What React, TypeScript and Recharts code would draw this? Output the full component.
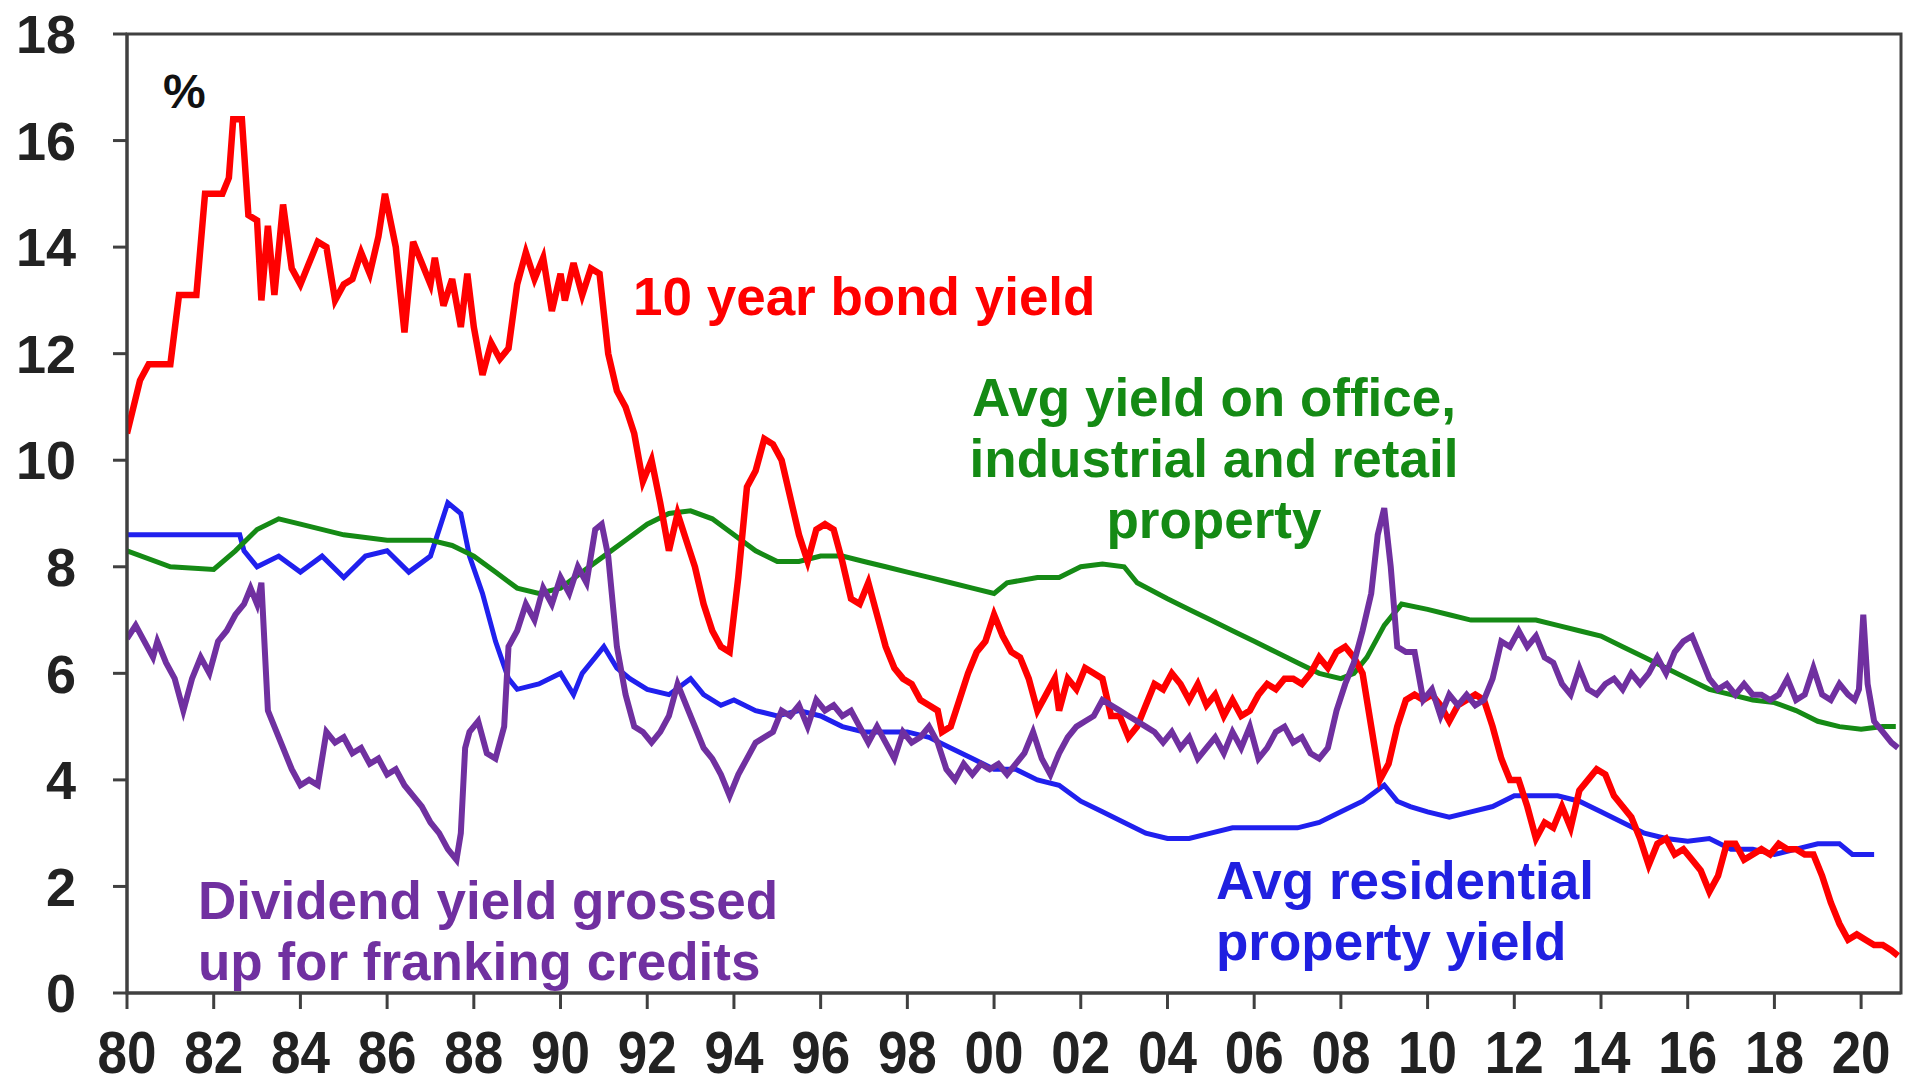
import React from 'react';
import { LineChart, Line, XAxis, YAxis, ReferenceArea } from 'recharts';

// [year, %]
const bondYield: [number, number][] = [
  [1980.0, 10.5], [1980.3, 11.5], [1980.5, 11.8], [1981.0, 11.8], [1981.2, 13.1], [1981.6, 13.1],
  [1981.8, 15.0], [1982.2, 15.0], [1982.35, 15.3], [1982.45, 16.4], [1982.65, 16.4], [1982.8, 14.6],
  [1983.0, 14.5], [1983.1, 13.0], [1983.25, 14.4], [1983.4, 13.1], [1983.6, 14.8], [1983.8, 13.6],
  [1984.0, 13.3], [1984.2, 13.7], [1984.4, 14.1], [1984.6, 14.0], [1984.8, 13.0], [1985.0, 13.3],
  [1985.2, 13.4], [1985.4, 13.9], [1985.6, 13.5], [1985.8, 14.2], [1985.95, 15.0], [1986.2, 14.0],
  [1986.4, 12.4], [1986.6, 14.1], [1986.8, 13.7], [1987.0, 13.3], [1987.1, 13.8], [1987.3, 12.9],
  [1987.5, 13.4], [1987.7, 12.5], [1987.85, 13.5], [1988.0, 12.5], [1988.2, 11.6], [1988.4, 12.2],
  [1988.6, 11.9], [1988.8, 12.1], [1989.0, 13.3], [1989.2, 13.9], [1989.4, 13.4], [1989.6, 13.8],
  [1989.8, 12.8], [1990.0, 13.5], [1990.1, 13.0], [1990.3, 13.7], [1990.5, 13.1], [1990.7, 13.6],
  [1990.9, 13.5], [1991.1, 12.0], [1991.3, 11.3], [1991.5, 11.0], [1991.7, 10.5], [1991.9, 9.6],
  [1992.1, 10.0], [1992.3, 9.2], [1992.5, 8.3], [1992.7, 9.0], [1992.9, 8.5], [1993.1, 8.0],
  [1993.3, 7.3], [1993.5, 6.8], [1993.7, 6.5], [1993.9, 6.4], [1994.1, 7.8], [1994.3, 9.5],
  [1994.5, 9.8], [1994.7, 10.4], [1994.9, 10.3], [1995.1, 10.0], [1995.3, 9.3], [1995.5, 8.6],
  [1995.7, 8.1], [1995.9, 8.7], [1996.1, 8.8], [1996.3, 8.7], [1996.5, 8.1], [1996.7, 7.4],
  [1996.9, 7.3], [1997.1, 7.7], [1997.3, 7.1], [1997.5, 6.5], [1997.7, 6.1], [1997.9, 5.9],
  [1998.1, 5.8], [1998.3, 5.5], [1998.5, 5.4], [1998.7, 5.3], [1998.8, 4.9], [1999.0, 5.0],
  [1999.2, 5.5], [1999.4, 6.0], [1999.6, 6.4], [1999.8, 6.6], [2000.0, 7.1], [2000.2, 6.7],
  [2000.4, 6.4], [2000.6, 6.3], [2000.8, 5.9], [2001.0, 5.3], [2001.2, 5.6], [2001.4, 5.9],
  [2001.5, 5.3], [2001.7, 5.9], [2001.9, 5.7], [2002.1, 6.1], [2002.3, 6.0], [2002.5, 5.9],
  [2002.7, 5.2], [2002.9, 5.2], [2003.1, 4.8], [2003.3, 5.0], [2003.5, 5.4], [2003.7, 5.8],
  [2003.9, 5.7], [2004.1, 6.0], [2004.3, 5.8], [2004.5, 5.5], [2004.7, 5.8], [2004.9, 5.4],
  [2005.1, 5.6], [2005.3, 5.2], [2005.5, 5.5], [2005.7, 5.2], [2005.9, 5.3], [2006.1, 5.6],
  [2006.3, 5.8], [2006.5, 5.7], [2006.7, 5.9], [2006.9, 5.9], [2007.1, 5.8], [2007.3, 6.0],
  [2007.5, 6.3], [2007.7, 6.1], [2007.9, 6.4], [2008.1, 6.5], [2008.3, 6.3], [2008.5, 6.0],
  [2008.7, 5.0], [2008.9, 4.0], [2009.1, 4.3], [2009.3, 5.0], [2009.5, 5.5], [2009.7, 5.6],
  [2009.9, 5.5], [2010.1, 5.6], [2010.3, 5.4], [2010.5, 5.1], [2010.7, 5.4], [2010.9, 5.5],
  [2011.1, 5.6], [2011.3, 5.5], [2011.5, 5.0], [2011.7, 4.4], [2011.9, 4.0], [2012.1, 4.0],
  [2012.3, 3.5], [2012.5, 2.9], [2012.7, 3.2], [2012.9, 3.1], [2013.1, 3.5], [2013.3, 3.1],
  [2013.5, 3.8], [2013.7, 4.0], [2013.9, 4.2], [2014.1, 4.1], [2014.3, 3.7], [2014.5, 3.5],
  [2014.7, 3.3], [2014.9, 2.9], [2015.1, 2.4], [2015.3, 2.8], [2015.5, 2.9], [2015.7, 2.6],
  [2015.9, 2.7], [2016.1, 2.5], [2016.3, 2.3], [2016.5, 1.9], [2016.7, 2.2], [2016.9, 2.8],
  [2017.1, 2.8], [2017.3, 2.5], [2017.5, 2.6], [2017.7, 2.7], [2017.9, 2.6], [2018.1, 2.8],
  [2018.3, 2.7], [2018.5, 2.7], [2018.7, 2.6], [2018.9, 2.6], [2019.1, 2.2], [2019.3, 1.7],
  [2019.5, 1.3], [2019.7, 1.0], [2019.9, 1.1], [2020.1, 1.0], [2020.3, 0.9], [2020.5, 0.9],
  [2020.7, 0.8], [2020.85, 0.7],
];

const dividendYield: [number, number][] = [
  [1980.0, 6.65], [1980.2, 6.9], [1980.4, 6.6], [1980.6, 6.3], [1980.7, 6.6], [1980.9, 6.2],
  [1981.1, 5.9], [1981.3, 5.3], [1981.5, 5.9], [1981.7, 6.3], [1981.9, 6.0], [1982.1, 6.6],
  [1982.3, 6.8], [1982.5, 7.1], [1982.7, 7.3], [1982.85, 7.6], [1983.0, 7.3], [1983.1, 7.7],
  [1983.25, 5.3], [1983.4, 5.0], [1983.6, 4.6], [1983.8, 4.2], [1984.0, 3.9], [1984.2, 4.0],
  [1984.4, 3.9], [1984.6, 4.9], [1984.8, 4.7], [1985.0, 4.8], [1985.2, 4.5], [1985.4, 4.6],
  [1985.6, 4.3], [1985.8, 4.4], [1986.0, 4.1], [1986.2, 4.2], [1986.4, 3.9], [1986.6, 3.7],
  [1986.8, 3.5], [1987.0, 3.2], [1987.2, 3.0], [1987.4, 2.7], [1987.6, 2.5], [1987.7, 3.0],
  [1987.8, 4.6], [1987.9, 4.9], [1988.1, 5.1], [1988.3, 4.5], [1988.5, 4.4], [1988.7, 5.0],
  [1988.8, 6.5], [1989.0, 6.8], [1989.2, 7.3], [1989.4, 7.0], [1989.6, 7.6], [1989.8, 7.3],
  [1990.0, 7.8], [1990.2, 7.5], [1990.4, 8.0], [1990.6, 7.7], [1990.8, 8.7], [1990.95, 8.8],
  [1991.1, 8.2], [1991.3, 6.5], [1991.5, 5.6], [1991.7, 5.0], [1991.9, 4.9], [1992.1, 4.7],
  [1992.3, 4.9], [1992.5, 5.2], [1992.7, 5.8], [1992.9, 5.4], [1993.1, 5.0], [1993.3, 4.6],
  [1993.5, 4.4], [1993.7, 4.1], [1993.9, 3.7], [1994.1, 4.1], [1994.3, 4.4], [1994.5, 4.7],
  [1994.7, 4.8], [1994.9, 4.9], [1995.1, 5.3], [1995.3, 5.2], [1995.5, 5.4], [1995.7, 5.0],
  [1995.9, 5.5], [1996.1, 5.3], [1996.3, 5.4], [1996.5, 5.2], [1996.7, 5.3], [1996.9, 5.0],
  [1997.1, 4.7], [1997.3, 5.0], [1997.5, 4.7], [1997.7, 4.4], [1997.9, 4.9], [1998.1, 4.7],
  [1998.3, 4.8], [1998.5, 5.0], [1998.7, 4.7], [1998.9, 4.2], [1999.1, 4.0], [1999.3, 4.3],
  [1999.5, 4.1], [1999.7, 4.3], [1999.9, 4.2], [2000.1, 4.3], [2000.3, 4.1], [2000.5, 4.3],
  [2000.7, 4.5], [2000.9, 4.9], [2001.1, 4.4], [2001.3, 4.1], [2001.5, 4.5], [2001.7, 4.8],
  [2001.9, 5.0], [2002.1, 5.1], [2002.3, 5.2], [2002.5, 5.5], [2002.7, 5.4], [2002.9, 5.3],
  [2003.1, 5.2], [2003.3, 5.1], [2003.5, 5.0], [2003.7, 4.9], [2003.9, 4.7], [2004.1, 4.9],
  [2004.3, 4.6], [2004.5, 4.8], [2004.7, 4.4], [2004.9, 4.6], [2005.1, 4.8], [2005.3, 4.5],
  [2005.5, 4.9], [2005.7, 4.6], [2005.9, 5.0], [2006.1, 4.4], [2006.3, 4.6], [2006.5, 4.9],
  [2006.7, 5.0], [2006.9, 4.7], [2007.1, 4.8], [2007.3, 4.5], [2007.5, 4.4], [2007.7, 4.6],
  [2007.9, 5.3], [2008.1, 5.8], [2008.3, 6.2], [2008.5, 6.8], [2008.7, 7.5], [2008.85, 8.6],
  [2009.0, 9.1], [2009.15, 8.0], [2009.3, 6.5], [2009.5, 6.4], [2009.7, 6.4], [2009.9, 5.5],
  [2010.1, 5.7], [2010.3, 5.2], [2010.5, 5.6], [2010.7, 5.4], [2010.9, 5.6], [2011.1, 5.4],
  [2011.3, 5.5], [2011.5, 5.9], [2011.7, 6.6], [2011.9, 6.5], [2012.1, 6.8], [2012.3, 6.5],
  [2012.5, 6.7], [2012.7, 6.3], [2012.9, 6.2], [2013.1, 5.8], [2013.3, 5.6], [2013.5, 6.1],
  [2013.7, 5.7], [2013.9, 5.6], [2014.1, 5.8], [2014.3, 5.9], [2014.5, 5.7], [2014.7, 6.0],
  [2014.9, 5.8], [2015.1, 6.0], [2015.3, 6.3], [2015.5, 6.0], [2015.7, 6.4], [2015.9, 6.6],
  [2016.1, 6.7], [2016.3, 6.3], [2016.5, 5.9], [2016.7, 5.7], [2016.9, 5.8], [2017.1, 5.6],
  [2017.3, 5.8], [2017.5, 5.6], [2017.7, 5.6], [2017.9, 5.5], [2018.1, 5.6], [2018.3, 5.9],
  [2018.5, 5.5], [2018.7, 5.6], [2018.9, 6.1], [2019.1, 5.6], [2019.3, 5.5], [2019.5, 5.8],
  [2019.7, 5.6], [2019.85, 5.5], [2019.95, 5.7], [2020.05, 7.1], [2020.15, 5.8], [2020.3, 5.1],
  [2020.5, 4.9], [2020.7, 4.7], [2020.85, 4.6],
];

const residentialYield: [number, number][] = [
  [1980.0, 8.6], [1982.6, 8.6], [1982.7, 8.3], [1983.0, 8.0], [1983.5, 8.2], [1984.0, 7.9],
  [1984.5, 8.2], [1985.0, 7.8], [1985.5, 8.2], [1986.0, 8.3], [1986.5, 7.9], [1987.0, 8.2],
  [1987.4, 9.2], [1987.7, 9.0], [1987.9, 8.2], [1988.2, 7.5], [1988.5, 6.6], [1988.8, 5.9],
  [1989.0, 5.7], [1989.5, 5.8], [1990.0, 6.0], [1990.3, 5.6], [1990.5, 6.0], [1990.8, 6.3],
  [1991.0, 6.5], [1991.3, 6.1], [1991.6, 5.9], [1992.0, 5.7], [1992.5, 5.6], [1993.0, 5.9],
  [1993.3, 5.6], [1993.7, 5.4], [1994.0, 5.5], [1994.5, 5.3], [1995.0, 5.2], [1995.5, 5.3],
  [1996.0, 5.2], [1996.5, 5.0], [1997.0, 4.9], [1997.5, 4.9], [1998.0, 4.9], [1998.5, 4.8],
  [1999.0, 4.6], [1999.5, 4.4], [2000.0, 4.2], [2000.5, 4.2], [2001.0, 4.0], [2001.5, 3.9],
  [2002.0, 3.6], [2002.5, 3.4], [2003.0, 3.2], [2003.5, 3.0], [2004.0, 2.9], [2004.5, 2.9],
  [2005.0, 3.0], [2005.5, 3.1], [2006.0, 3.1], [2006.5, 3.1], [2007.0, 3.1], [2007.5, 3.2],
  [2008.0, 3.4], [2008.5, 3.6], [2009.0, 3.9], [2009.3, 3.6], [2009.6, 3.5], [2010.0, 3.4],
  [2010.5, 3.3], [2011.0, 3.4], [2011.5, 3.5], [2012.0, 3.7], [2012.5, 3.7], [2013.0, 3.7],
  [2013.5, 3.6], [2014.0, 3.4], [2014.5, 3.2], [2015.0, 3.0], [2015.5, 2.9], [2016.0, 2.85],
  [2016.5, 2.9], [2017.0, 2.7], [2017.5, 2.7], [2018.0, 2.6], [2018.5, 2.7], [2019.0, 2.8],
  [2019.5, 2.8], [2019.8, 2.6], [2020.3, 2.6],
];

const commercialYield: [number, number][] = [
  [1980.0, 8.3], [1981.0, 8.0], [1982.0, 7.95], [1982.5, 8.3], [1983.0, 8.7], [1983.5, 8.9],
  [1984.0, 8.8], [1985.0, 8.6], [1986.0, 8.5], [1987.0, 8.5], [1987.5, 8.4], [1988.0, 8.2],
  [1988.5, 7.9], [1989.0, 7.6], [1989.5, 7.5], [1990.0, 7.6], [1990.5, 7.9], [1991.0, 8.2],
  [1991.5, 8.5], [1992.0, 8.8], [1992.5, 9.0], [1993.0, 9.05], [1993.5, 8.9], [1994.0, 8.6],
  [1994.5, 8.3], [1995.0, 8.1], [1995.5, 8.1], [1996.0, 8.2], [1996.5, 8.2], [1997.0, 8.1],
  [1997.5, 8.0], [1998.0, 7.9], [1998.5, 7.8], [1999.0, 7.7], [1999.5, 7.6], [2000.0, 7.5],
  [2000.3, 7.7], [2001.0, 7.8], [2001.5, 7.8], [2002.0, 8.0], [2002.5, 8.05], [2003.0, 8.0],
  [2003.3, 7.7], [2004.0, 7.4], [2004.5, 7.2], [2005.0, 7.0], [2005.5, 6.8], [2006.0, 6.6],
  [2006.5, 6.4], [2007.0, 6.2], [2007.5, 6.0], [2008.0, 5.9], [2008.3, 6.0], [2008.6, 6.3],
  [2009.0, 6.9], [2009.4, 7.3], [2010.0, 7.2], [2010.5, 7.1], [2011.0, 7.0], [2011.5, 7.0],
  [2012.0, 7.0], [2012.5, 7.0], [2013.0, 6.9], [2013.5, 6.8], [2014.0, 6.7], [2014.5, 6.5],
  [2015.0, 6.3], [2015.5, 6.1], [2016.0, 5.9], [2016.5, 5.7], [2017.0, 5.6], [2017.5, 5.5],
  [2018.0, 5.45], [2018.5, 5.3], [2019.0, 5.1], [2019.5, 5.0], [2020.0, 4.95], [2020.5, 5.0],
  [2020.8, 5.0],
];

const yearTicks = [1980, 1982, 1984, 1986, 1988, 1990, 1992, 1994, 1996, 1998, 2000, 2002, 2004, 2006, 2008, 2010, 2012, 2014, 2016, 2018, 2020];
const pctTicks = [0, 2, 4, 6, 8, 10, 12, 14, 16, 18];

const toRows = (pts: [number, number][]) => pts.map(([x, v]) => ({ x, v }));

const FONT = '"Liberation Sans", Arial, sans-serif';

const XTick = ({ x, y, payload }: any) => (
  <text
    transform={`translate(${x},${y}) scale(1,1.1)`}
    textAnchor="middle"
    dy="0.71em"
    fontSize={53}
    fontWeight="bold"
    fontFamily={FONT}
    fill="#222"
  >
    {String(payload.value % 100).padStart(2, '0')}
  </text>
);

export default function App() {
  return (
    <div style={{ position: 'absolute', left: 0, top: 0, width: 1917, height: 1088, background: '#fff', overflow: 'hidden' }}>
      <LineChart width={1917} height={1088} margin={{ top: 34, right: 16, bottom: 15, left: 17 }}>
        <XAxis
          dataKey="x"
          type="number"
          domain={[1980, 2020.92]}
          allowDataOverflow
          ticks={yearTicks}
          tick={<XTick />}
          tickSize={16}
          tickMargin={23}
          height={80}
          stroke="#404040"
          strokeWidth={3}
        />
        <YAxis
          type="number"
          domain={[0, 18]}
          ticks={pctTicks}
          width={110}
          tickSize={14}
          tickMargin={37}
          stroke="#404040"
          strokeWidth={3}
          tick={{ fontSize: 54, fontWeight: 'bold', fontFamily: FONT, fill: '#222' }}
        />
        <ReferenceArea x1={1980} x2={2020.92} y1={0} y2={18} fill="none" stroke="#404040" strokeWidth={3} ifOverflow="visible" />
        <Line data={toRows(residentialYield)} dataKey="v" type="linear" stroke="#2020EE" strokeWidth={5} dot={false} isAnimationActive={false} />
        <Line data={toRows(commercialYield)} dataKey="v" type="linear" stroke="#158A15" strokeWidth={5} dot={false} isAnimationActive={false} />
        <Line data={toRows(bondYield)} dataKey="v" type="linear" stroke="#FF0000" strokeWidth={6.5} dot={false} isAnimationActive={false} />
        <Line data={toRows(dividendYield)} dataKey="v" type="linear" stroke="#7030A0" strokeWidth={6} dot={false} isAnimationActive={false} />
      </LineChart>
      <svg width={1917} height={1088} style={{ position: 'absolute', left: 0, top: 0, pointerEvents: 'none' }} fontFamily={FONT} fontWeight="bold">
        <text x={163} y={108} fontSize={48} fill="#111">%</text>
        <text x={633} y={315} fontSize={53} fill="#FF0000">10 year bond yield</text>
        <text x={1214} y={416} fontSize={53} fill="#148A14" textAnchor="middle">Avg yield on office,</text>
        <text x={1214} y={477} fontSize={53} fill="#148A14" textAnchor="middle">industrial and retail</text>
        <text x={1214} y={538} fontSize={53} fill="#148A14" textAnchor="middle">property</text>
        <text x={198} y={919} fontSize={53} fill="#7030A0">Dividend yield grossed</text>
        <text x={198} y={980} fontSize={53} fill="#7030A0">up for franking credits</text>
        <text x={1216} y={899} fontSize={53} fill="#2020E0">Avg residential</text>
        <text x={1216} y={960} fontSize={53} fill="#2020E0">property yield</text>
      </svg>
    </div>
  );
}
